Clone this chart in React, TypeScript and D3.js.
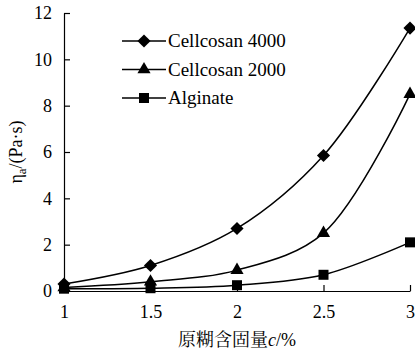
import React, { useEffect, useRef } from 'react';
import * as d3 from 'd3';

const solids = [1, 1.5, 2, 2.5, 3];
const cellcosan4000 = [0.3, 1.1, 2.7, 5.85, 11.35];
const cellcosan2000 = [0.15, 0.4, 0.9, 2.5, 8.5];
const alginate = [0.1, 0.12, 0.25, 0.7, 2.1];
const seriesNames = ['Cellcosan 4000', 'Cellcosan 2000', 'Alginate'];
const xTicks = [1, 1.5, 2, 2.5, 3];
const yTicks = [0, 2, 4, 6, 8, 10, 12];

const serif = 'Liberation Serif';

const App = () => {
  const ref = useRef<SVGSVGElement | null>(null);

  useEffect(() => {
    const svg = d3.select(ref.current);
    svg.selectAll('*').remove();

    const width = 415;
    const height = 360;
    const margin = { top: 13, right: 5, bottom: 69, left: 64 };

    const x = d3.scaleLinear().domain([1, 3]).range([margin.left, width - margin.right]);
    const y = d3.scaleLinear().domain([0, 12]).range([height - margin.bottom, margin.top]);

    const symbols = [d3.symbolDiamond2, d3.symbolTriangle, d3.symbolSquare];
    const sizes = [110, 75, 100];
    const allSeries = [cellcosan4000, cellcosan2000, alginate];

    // axes
    const xAxis = svg.append('g')
      .attr('transform', `translate(0,${y(0)})`)
      .call(d3.axisBottom(x).tickValues(xTicks).tickSizeInner(-6).tickSizeOuter(0).tickPadding(14)
        .tickFormat(d => d3.format('')(d as number)));
    xAxis.selectAll('text').style('font-family', serif).style('font-size', '18px').attr('fill', '#000');

    const yAxis = svg.append('g')
      .attr('transform', `translate(${margin.left},0)`)
      .call(d3.axisLeft(y).tickValues(yTicks).tickSizeInner(-6).tickSizeOuter(0).tickPadding(12));
    yAxis.selectAll('text').style('font-family', serif).style('font-size', '18px').attr('fill', '#000');
    svg.selectAll('.domain').attr('stroke', '#000').attr('stroke-width', 1.2);
    svg.selectAll('.tick line').attr('stroke', '#000').attr('stroke-width', 1.2);

    // curves
    const line = d3.line<number>()
      .x((_, i) => x(solids[i]))
      .y(d => y(d))
      .curve(d3.curveCatmullRom.alpha(0.5));

    allSeries.forEach((vals, si) => {
      svg.append('path')
        .datum(vals)
        .attr('fill', 'none')
        .attr('stroke', '#000')
        .attr('stroke-width', 1.5)
        .attr('d', line);

      svg.append('g')
        .selectAll('path')
        .data(vals)
        .enter().append('path')
        .attr('transform', (d, i) => `translate(${x(solids[i])},${y(d)})`)
        .attr('d', d3.symbol().type(symbols[si]).size(sizes[si])())
        .attr('fill', '#000');
    });

    // legend
    const legend = svg.append('g').attr('transform', 'translate(122,41)');
    seriesNames.forEach((name, i) => {
      const g = legend.append('g').attr('transform', `translate(0,${i * 28.5})`);
      g.append('line').attr('x1', 0).attr('x2', 44).attr('y1', 0).attr('y2', 0)
        .attr('stroke', '#000').attr('stroke-width', 1.5);
      g.append('path')
        .attr('transform', 'translate(22,0)')
        .attr('d', d3.symbol().type(symbols[i]).size(sizes[i])())
        .attr('fill', '#000');
      g.append('text').attr('x', 46).attr('y', 6)
        .style('font-family', serif).style('font-size', '19px')
        .text(name);
    });

    // axis titles
    const yt = svg.append('text')
      .attr('transform', `translate(22,${(y(0) + y(12)) / 2}) rotate(-90)`)
      .attr('text-anchor', 'middle')
      .style('font-family', serif).style('font-size', '18px');
    yt.append('tspan').text('η');
    yt.append('tspan').style('font-size', '13px').attr('dy', 4).text('a');
    yt.append('tspan').attr('dy', -4).text('/(Pa·s)');

    const xt = svg.append('text')
      .attr('x', (x(1) + x(3)) / 2)
      .attr('y', 346)
      .attr('text-anchor', 'middle')
      .style('font-family', serif).style('font-size', '18px');
    xt.append('tspan').style('font-family', 'Noto Serif CJK SC').text('原糊含固量');
    xt.append('tspan').style('font-style', 'italic').text('c');
    xt.append('tspan').text('/%');
  }, []);

  return (
    <div style={{ position: 'absolute', left: 0, top: 0 }}>
      <svg ref={ref} width={415} height={360} style={{ display: 'block', background: '#fff' }}></svg>
    </div>
  );
};

export default App;
